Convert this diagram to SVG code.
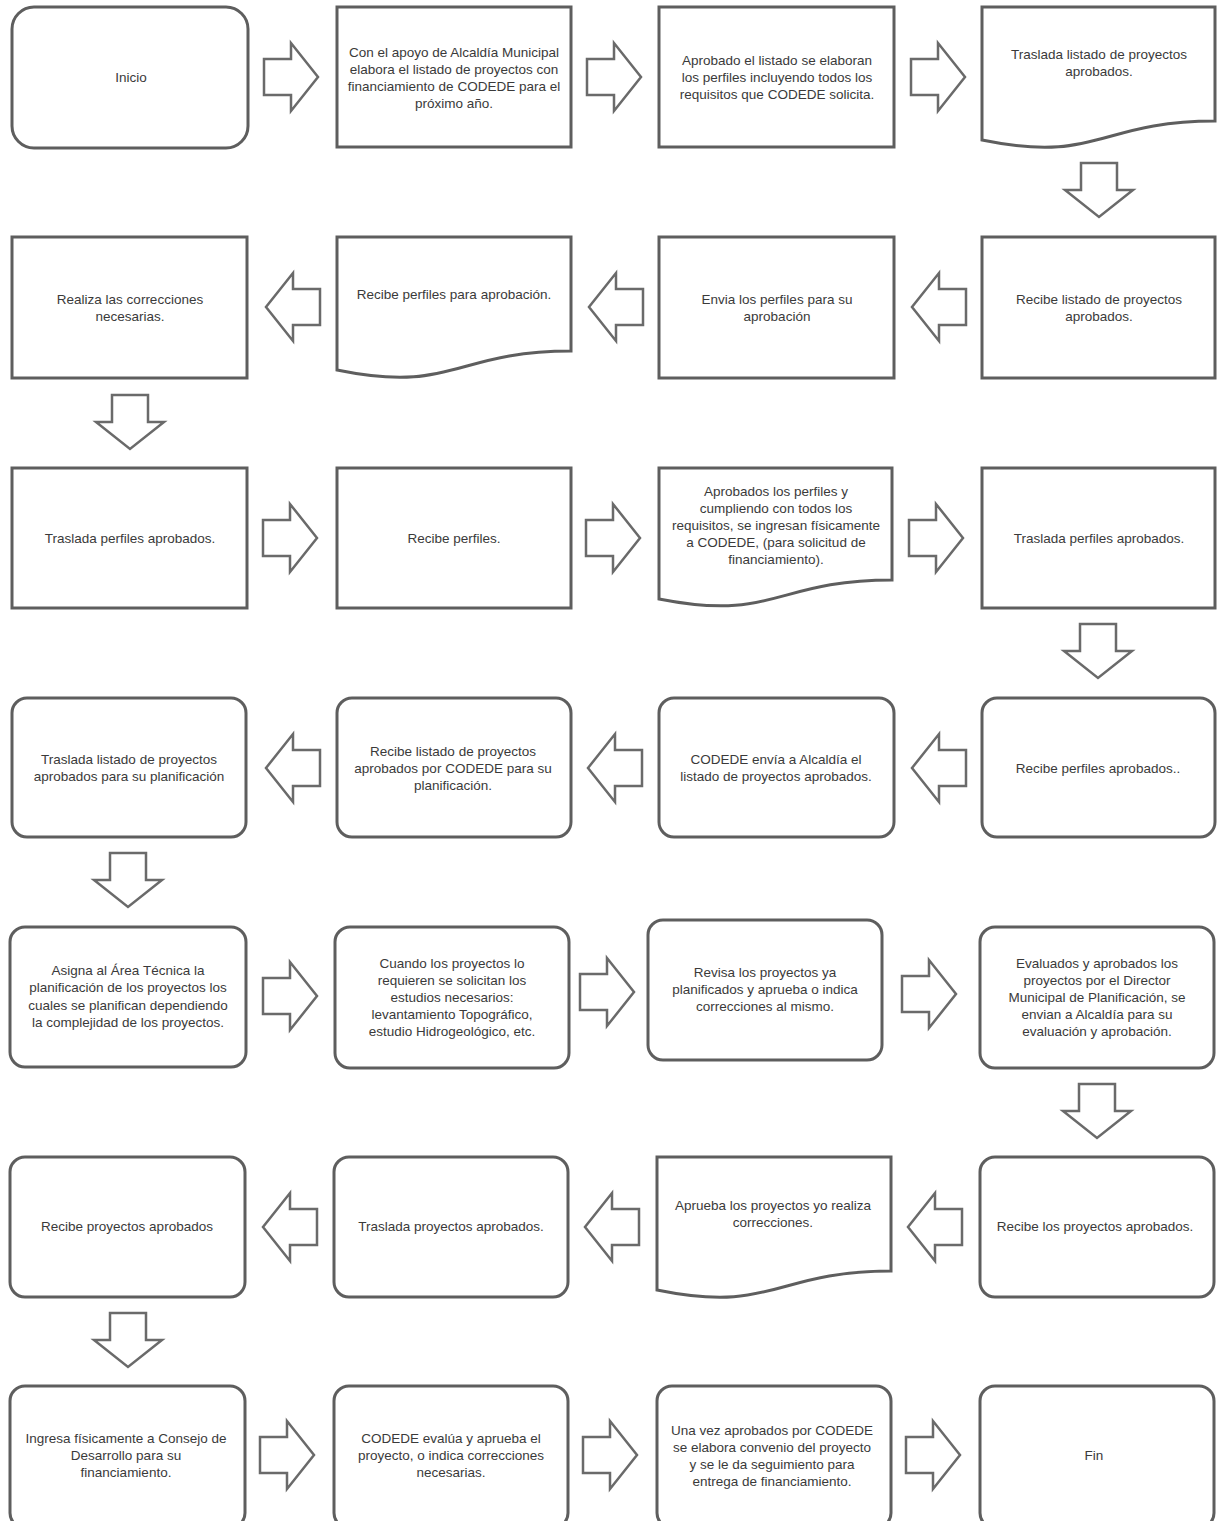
<svg xmlns="http://www.w3.org/2000/svg" xmlns:xlink="http://www.w3.org/1999/xlink" width="1217" height="1521" viewBox="0 0 1217 1521">
<style>
.box{fill:#fff;stroke:#5e5e5e;stroke-width:3}
.arr{fill:#fff;stroke:#6a6a6a;stroke-width:2.5;stroke-linejoin:miter}
text{font-family:"Liberation Sans",Arial,sans-serif;font-size:13.5px;fill:#3a3a3a;text-anchor:middle}
</style>
<defs>
<path id="ra" d="M0,16 H27 V0 L54,34 L27,68 V52 H0 Z"/>
<path id="la" d="M54,16 H27 V0 L0,34 L27,68 V52 H54 Z"/>
<path id="da" d="M16,0 H52 V27 H68 L34,54 L0,27 H16 Z"/>
</defs>
<rect width="1217" height="1521" fill="#fff"/>

<g id="connectors" class="arr">
<use xlink:href="#ra" x="264" y="43"/>
<use xlink:href="#ra" x="587" y="43"/>
<use xlink:href="#ra" x="911" y="43"/>
<use xlink:href="#da" x="1065" y="163"/>
<use xlink:href="#la" x="266" y="273"/>
<use xlink:href="#la" x="589" y="273"/>
<use xlink:href="#la" x="912" y="273"/>
<use xlink:href="#da" x="96" y="395"/>
<use xlink:href="#ra" x="263" y="504"/>
<use xlink:href="#ra" x="586" y="504"/>
<use xlink:href="#ra" x="909" y="504"/>
<use xlink:href="#da" x="1064" y="624"/>
<use xlink:href="#la" x="266" y="734"/>
<use xlink:href="#la" x="588" y="734"/>
<use xlink:href="#la" x="912" y="734"/>
<use xlink:href="#da" x="94" y="853"/>
<use xlink:href="#ra" x="263" y="962"/>
<use xlink:href="#ra" x="580" y="958"/>
<use xlink:href="#ra" x="902" y="960"/>
<use xlink:href="#da" x="1063" y="1084"/>
<use xlink:href="#la" x="263" y="1193"/>
<use xlink:href="#la" x="585" y="1193"/>
<use xlink:href="#la" x="908" y="1193"/>
<use xlink:href="#da" x="94" y="1313"/>
<use xlink:href="#ra" x="260" y="1421"/>
<use xlink:href="#ra" x="583" y="1421"/>
<use xlink:href="#ra" x="906" y="1421"/>
</g>

<!-- Row 1 -->
<g id="n1"><rect class="box" x="12" y="7" width="236" height="141" rx="22"/><text x="131" y="82">Inicio</text></g>
<g id="n2"><rect class="box" x="337" y="7" width="234" height="140"/>
<text x="454" y="57">Con el apoyo de Alcaldía Municipal</text><text x="454" y="74">elabora el listado de proyectos con</text><text x="454" y="91">financiamiento de CODEDE para el</text><text x="454" y="108">próximo año.</text></g>
<g id="n3"><rect class="box" x="659" y="7" width="235" height="140"/>
<text x="777" y="65">Aprobado el listado se elaboran</text><text x="777" y="82">los perfiles incluyendo todos los</text><text x="777" y="99">requisitos que CODEDE solicita.</text></g>
<g id="n4"><path class="box" d="M982,7 H1215 V121 C1098.5,121 1098.5,164 982,140 Z"/>
<text x="1099" y="59">Traslada listado de proyectos</text><text x="1099" y="76">aprobados.</text></g>

<!-- Row 2 -->
<g id="n5"><rect class="box" x="12" y="237" width="235" height="141"/>
<text x="130" y="304">Realiza las correcciones</text><text x="130" y="321">necesarias.</text></g>
<g id="n6"><path class="box" d="M337,237 H571 V351 C454,351 454,394 337,370 Z"/>
<text x="454" y="299">Recibe perfiles para aprobación.</text></g>
<g id="n7"><rect class="box" x="659" y="237" width="235" height="141"/>
<text x="777" y="304">Envia los perfiles para su</text><text x="777" y="321">aprobación</text></g>
<g id="n8"><rect class="box" x="982" y="237" width="233" height="141"/>
<text x="1099" y="304">Recibe listado de proyectos</text><text x="1099" y="321">aprobados.</text></g>

<!-- Row 3 -->
<g id="n9"><rect class="box" x="12" y="468" width="235" height="140"/>
<text x="130" y="543">Traslada perfiles aprobados.</text></g>
<g id="n10"><rect class="box" x="337" y="468" width="234" height="140"/>
<text x="454" y="543">Recibe perfiles.</text></g>
<g id="n11"><path class="box" d="M659,468 H892 V580 C775.5,580 775.5,622 659,599 Z"/>
<text x="776" y="496">Aprobados los perfiles y</text><text x="776" y="513">cumpliendo con todos los</text><text x="776" y="530">requisitos, se ingresan físicamente</text><text x="776" y="547">a CODEDE, (para solicitud de</text><text x="776" y="564">financiamiento).</text></g>
<g id="n12"><rect class="box" x="982" y="468" width="233" height="140"/>
<text x="1099" y="543">Traslada perfiles aprobados.</text></g>

<!-- Row 4 -->
<g id="n13"><rect class="box" x="12" y="698" width="234" height="139" rx="15"/>
<text x="129" y="764">Traslada listado de proyectos</text><text x="129" y="781">aprobados para su planificación</text></g>
<g id="n14"><rect class="box" x="337" y="698" width="234" height="139" rx="15"/>
<text x="453" y="756">Recibe listado de proyectos</text><text x="453" y="773">aprobados por CODEDE para su</text><text x="453" y="790">planificación.</text></g>
<g id="n15"><rect class="box" x="659" y="698" width="235" height="139" rx="15"/>
<text x="776" y="764">CODEDE envía a Alcaldía el</text><text x="776" y="781">listado de proyectos aprobados.</text></g>
<g id="n16"><rect class="box" x="982" y="698" width="233" height="139" rx="15"/>
<text x="1098" y="773">Recibe perfiles aprobados..</text></g>

<!-- Row 5 -->
<g id="n17"><rect class="box" x="10" y="927" width="236" height="140" rx="15"/>
<text x="128" y="975">Asigna al Área Técnica la</text><text x="128" y="992">planificación de los proyectos los</text><text x="128" y="1010">cuales se planifican dependiendo</text><text x="128" y="1027">la complejidad de los proyectos.</text></g>
<g id="n18"><rect class="box" x="335" y="927" width="234" height="141" rx="15"/>
<text x="452" y="968">Cuando los proyectos lo</text><text x="452" y="985">requieren se solicitan los</text><text x="452" y="1002">estudios necesarios:</text><text x="452" y="1019">levantamiento Topográfico,</text><text x="452" y="1036">estudio Hidrogeológico, etc.</text></g>
<g id="n19"><rect class="box" x="648" y="920" width="234" height="140" rx="15"/>
<text x="765" y="977">Revisa los proyectos ya</text><text x="765" y="994">planificados y aprueba o indica</text><text x="765" y="1011">correcciones al mismo.</text></g>
<g id="n20"><rect class="box" x="980" y="927" width="234" height="141" rx="15"/>
<text x="1097" y="968">Evaluados y aprobados los</text><text x="1097" y="985">proyectos por el Director</text><text x="1097" y="1002">Municipal de Planificación, se</text><text x="1097" y="1019">envian a Alcaldía para su</text><text x="1097" y="1036">evaluación y aprobación.</text></g>

<!-- Row 6 -->
<g id="n21"><rect class="box" x="10" y="1157" width="235" height="140" rx="15"/>
<text x="127" y="1231">Recibe proyectos aprobados</text></g>
<g id="n22"><rect class="box" x="334" y="1157" width="234" height="140" rx="15"/>
<text x="451" y="1231">Traslada proyectos aprobados.</text></g>
<g id="n23"><path class="box" d="M657,1157 H891 V1271 C774,1271 774,1314 657,1290 Z"/>
<text x="773" y="1210">Aprueba los proyectos yo realiza</text><text x="773" y="1227">correcciones.</text></g>
<g id="n24"><rect class="box" x="980" y="1157" width="234" height="140" rx="15"/>
<text x="1095" y="1231">Recibe los proyectos aprobados.</text></g>

<!-- Row 7 -->
<g id="n25"><rect class="box" x="10" y="1386" width="235" height="142" rx="15"/>
<text x="126" y="1443">Ingresa físicamente a Consejo de</text><text x="126" y="1460">Desarrollo para su</text><text x="126" y="1477">financiamiento.</text></g>
<g id="n26"><rect class="box" x="334" y="1386" width="234" height="142" rx="15"/>
<text x="451" y="1443">CODEDE evalúa y aprueba el</text><text x="451" y="1460">proyecto, o indica correcciones</text><text x="451" y="1477">necesarias.</text></g>
<g id="n27"><rect class="box" x="657" y="1386" width="234" height="142" rx="15"/>
<text x="772" y="1435">Una vez aprobados por CODEDE</text><text x="772" y="1452">se elabora convenio del proyecto</text><text x="772" y="1469">y se le da seguimiento para</text><text x="772" y="1486">entrega de financiamiento.</text></g>
<g id="n28"><rect class="box" x="980" y="1386" width="234" height="142" rx="15"/>
<text x="1094" y="1460">Fin</text></g>
</svg>
